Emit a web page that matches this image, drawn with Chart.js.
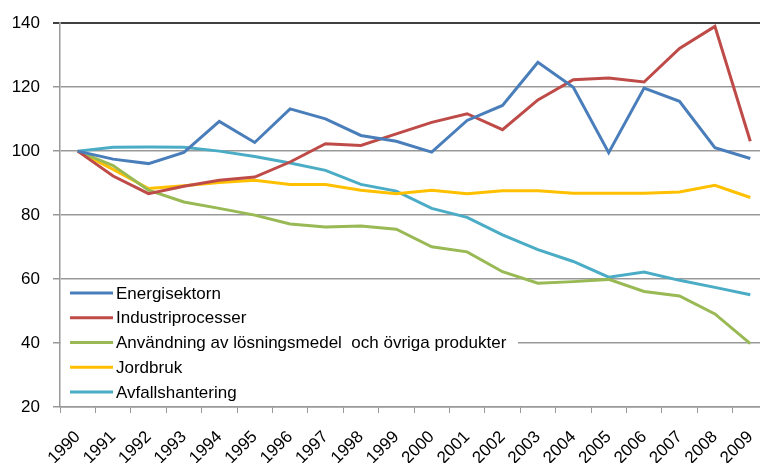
<!DOCTYPE html>
<html>
<head>
<meta charset="utf-8">
<script src="https://cdn.jsdelivr.net/npm/chart.js@4.4.1/dist/chart.umd.min.js"></script>
<style>
  html, body { margin: 0; padding: 0; background: #fff; overflow: hidden; width: 760px; height: 463px; }
  canvas { display: block; }
</style>
</head>
<body>
<canvas id="c" width="768" height="463"></canvas>
<script>
const years = ['1990','1991','1992','1993','1994','1995','1996','1997','1998','1999','2000','2001','2002','2003','2004','2005','2006','2007','2008','2009'];
const yTicks = [20, 40, 60, 80, 100, 120, 140];

const energisektorn = [100, 97.5, 96.1, 99.6, 109.3, 102.7, 113.2, 110.1, 104.9, 103.1, 99.7, 109.6, 114.3, 127.8, 120.0, 99.5, 119.7, 115.6, 101.1, 97.7];
const industriprocesser = [100, 92.2, 86.7, 89.0, 90.9, 91.9, 96.6, 102.3, 101.8, 105.4, 109.0, 111.7, 106.7, 116.0, 122.3, 122.9, 121.6, 132.1, 139.0, 103.1];
const losningsmedel = [100, 95.5, 87.8, 84.1, 82.1, 80.0, 77.2, 76.3, 76.6, 75.6, 70.1, 68.5, 62.3, 58.7, 59.2, 59.9, 56.1, 54.7, 49.1, 39.8];
const jordbruk = [100, 94.3, 88.3, 89.2, 90.2, 90.9, 89.6, 89.6, 87.8, 86.7, 87.8, 86.7, 87.6, 87.6, 86.8, 86.8, 86.8, 87.2, 89.3, 85.5];
const avfallshantering = [100, 101.2, 101.3, 101.2, 100.0, 98.3, 96.3, 94.0, 89.6, 87.5, 82.1, 79.3, 73.8, 69.2, 65.5, 60.6, 62.2, 59.6, 57.4, 55.1];

const seriesNames = ['Energisektorn', 'Industriprocesser', 'Användning av lösningsmedel  och övriga produkter', 'Jordbruk', 'Avfallshantering'];
const seriesColors = ['#4A7EBB', '#BE4B48', '#98B954', '#FFC000', '#4BACC6'];
const seriesData = [energisektorn, industriprocesser, losningsmedel, jordbruk, avfallshantering];

const FONT = 'Liberation Sans, Arial, sans-serif';

const insideLegend = {
  id: 'insideLegend',
  afterDatasetsDraw(chart) {
    const ctx = chart.ctx;
    const area = chart.chartArea;
    const ds = chart.data.datasets;
    ctx.save();
    ctx.fillStyle = '#ffffff';
    ctx.fillRect(area.left + 1, 282, 457, area.bottom - 282 - 1);
    ctx.font = '17px ' + FONT;
    ctx.textBaseline = 'middle';
    ctx.textAlign = 'left';
    const rowH = 24.75;
    const y0 = 293;
    ds.forEach((d, i) => {
      const y = y0 + i * rowH;
      ctx.strokeStyle = d.borderColor;
      ctx.lineWidth = 3;
      ctx.beginPath();
      ctx.moveTo(area.left + 10, y);
      ctx.lineTo(area.left + 53, y);
      ctx.stroke();
      ctx.fillStyle = '#000';
      ctx.fillText(d.label, area.left + 56, y + 1);
    });
    ctx.restore();
  }
};

new Chart(document.getElementById('c'), {
  type: 'line',
  data: {
    labels: years,
    datasets: seriesData.map((arr, i) => ({
      label: seriesNames[i],
      data: arr,
      borderColor: seriesColors[i],
      backgroundColor: seriesColors[i],
      borderWidth: 3,
      pointRadius: 0,
      tension: 0,
      fill: false
    }))
  },
  options: {
    responsive: false,
    devicePixelRatio: 1,
    animation: false,
    layout: { padding: { top: 23, right: 0, left: 0, bottom: 0 } },
    plugins: {
      legend: { display: false },
      tooltip: { enabled: false }
    },
    scales: {
      x: {
        type: 'category',
        offset: true,
        grid: {
          offset: true,
          drawOnChartArea: false,
          drawTicks: true,
          tickLength: 6,
          color: '#999'
        },
        border: { display: true, color: '#999', width: 1.5 },
        ticks: {
          autoSkip: false,
          maxRotation: 45,
          minRotation: 45,
          padding: 14,
          color: '#000',
          font: { family: FONT, size: 17 }
        },
        afterFit(scale) { scale.height = 56; scale.paddingRight = 0; scale.paddingLeft = 0; }
      },
      y: {
        min: 20,
        max: 140,
        afterBuildTicks(scale) { scale.ticks = yTicks.map(v => ({ value: v })); },
        grid: {
          color: (c) => (c.tick && c.tick.value === 140) ? '#404040' : '#999',
          lineWidth: (c) => (c.tick && c.tick.value === 140) ? 2 : 1.5,
          tickLength: 7,
          drawTicks: true
        },
        border: { display: true, color: '#999', width: 1.5 },
        ticks: {
          padding: 13,
          color: '#000',
          font: { family: FONT, size: 17 }
        },
        afterFit(scale) { scale.width = 60; }
      }
    }
  },
  plugins: [insideLegend]
});
</script>
</body>
</html>
